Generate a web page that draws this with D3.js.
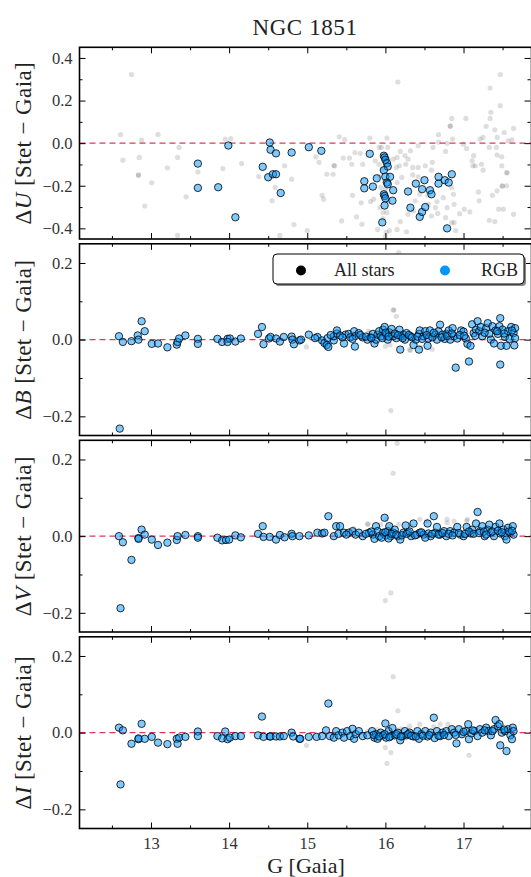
<script src="https://d3js.org/d3.v7.min.js"></script>
<style>
  body { margin: 0; background: #fff; }
  svg text { font-family: 'Liberation Serif', 'DejaVu Serif', serif; }
</style>
<svg id="chart"></svg>
<script>
// ---- data: [G (Gaia), Stet - Gaia] ----
const allU = [[12.75,0.322],[12.61,0.04],[12.64,-0.08],[12.88,0.014],[12.85,-0.067],[12.84,-0.149],[12.84,-0.151],[13.01,-0.186],[12.92,-0.295],
  [13.09,0.041],[13.21,-0.116],[13.34,-0.067],[13.36,-0.02],[13.45,-0.252],[13.34,-0.433],[13.60,-0.135],[13.92,-0.119],[13.95,0.019],[14.02,0.021],
  [14.16,-0.096],[14.38,-0.157],[14.55,-0.27],[14.59,-0.208],[14.71,-0.106],[14.80,-0.169],[14.83,-0.382],[14.65,-0.433],[15.0,-0.41],
  [16.16,0.287],[15.41,0.03],[15.48,0.017],[15.80,0.024],[16.02,0.024],[15.92,-0.02],[15.11,-0.064],[15.15,-0.09],[15.34,-0.105],[15.35,-0.107],
  [15.25,-0.146],[15.33,-0.146],[15.46,-0.07],[15.54,-0.07],[15.57,-0.099],[15.61,-0.044],[15.68,-0.048],[15.71,-0.099],[15.19,-0.245],[15.21,-0.263],
  [15.58,-0.245],[15.69,-0.28],[15.63,-0.346],[15.81,-0.274],[15.85,-0.263],[15.87,-0.083],[15.95,-0.02],[16.03,-0.02],[16.03,-0.075],[16.10,-0.075],
  [16.15,-0.067],[16.19,-0.039],[16.25,-0.059],[16.29,-0.075],[16.32,-0.036],[16.42,-0.012],[16.26,-0.099],[16.18,-0.106],[16.35,-0.114],[16.42,-0.114],
  [16.51,-0.106],[16.60,-0.09],[16.61,-0.02],[16.68,0.005],[16.68,0.04],[16.77,-0.039],[16.79,-0.001],[16.86,0.019],[16.85,0.116],[16.83,0.079],[16.83,0.081],
  [17.03,0.116],[17.00,-0.005],[17.04,-0.025],[17.13,-0.059],[17.11,-0.083],[17.15,-0.106],[17.23,-0.099],[17.25,-0.127],[17.21,0.019],[17.25,0.027],
  [17.29,0.079],[17.34,0.116],[17.35,0.145],[17.33,-0.02],[17.42,-0.02],[17.43,0.027],[17.47,0.176],[17.34,0.259],[17.47,0.322],[17.40,0.063],[17.52,0.05],
  [17.64,0.069],[17.57,0.011],[17.62,0.016],[17.49,-0.064],[17.49,-0.106],[17.55,-0.138],[17.56,-0.14],[17.43,-0.056],[17.49,-0.2],[17.50,-0.202],[17.55,-0.2],
  [17.37,-0.245],[17.43,-0.224],[17.45,-0.31],[17.51,-0.31],[17.64,-0.334],[17.19,-0.229],[17.20,-0.271],[17.33,-0.362],[17.40,-0.368],[17.12,-0.106],
  [16.85,-0.208],[16.87,-0.24],[16.88,-0.287],[16.95,-0.331],[17.01,-0.31],[17.08,-0.323],[16.79,-0.303],[16.77,-0.35],[16.85,-0.373],[16.88,-0.373],
  [16.90,-0.41],[16.67,-0.33],[16.59,-0.342],[16.64,-0.303],[16.55,-0.287],[16.38,-0.271],[16.36,-0.318],[16.29,-0.334],[16.19,-0.368],[16.27,-0.416],
  [16.15,-0.405],[16.05,-0.41],[16.01,-0.42],[15.97,-0.354],[15.97,-0.326],[16.02,-0.326],[15.93,-0.303],[15.90,-0.405],[15.97,-0.24],[16.00,-0.216],
  [15.94,-0.208],[15.93,-0.157],[15.96,-0.122],[15.92,-0.099],[16.15,-0.185],[16.14,-0.114],[16.21,-0.161],[16.35,-0.149],[16.42,-0.158],[16.59,-0.127],
  [16.44,-0.24],[16.54,-0.245],[16.66,-0.274],[16.74,-0.256],[15.70,-0.381],[15.44,-0.365],[15.98,-0.06],[16.01,-0.1],[15.99,-0.18],[16.04,-0.27],[16.0,-0.44]];
const rgbU = [[13.60,-0.096],[13.60,-0.21],[13.86,-0.207],[13.99,-0.011],[14.08,-0.348],[14.43,-0.111],[14.50,-0.16],[14.52,0.003],[14.53,-0.031],
  [14.56,-0.146],[14.60,-0.146],[14.60,-0.048],[14.66,-0.234],[14.80,-0.044],[15.02,-0.019],[15.18,-0.036],[15.80,-0.05],[15.73,-0.179],[15.73,-0.212],
  [15.84,-0.204],[15.89,-0.165],[15.98,-0.059],[15.99,-0.067],[16.00,-0.078],[16.02,-0.094],[16.03,-0.11],[15.98,-0.127],[16.00,-0.157],[16.06,-0.158],
  [16.02,-0.185],[16.03,-0.193],[16.10,-0.221],[15.98,-0.24],[15.99,-0.248],[16.00,-0.259],[16.09,-0.27],[15.99,-0.293],[15.96,-0.372],
  [16.29,-0.227],[16.32,-0.303],[16.39,-0.19],[16.47,-0.216],[16.50,-0.174],[16.44,-0.346],[16.47,-0.323],[16.51,-0.30],[16.57,-0.221],[16.59,-0.24],
  [16.68,-0.158],[16.68,-0.19],[16.76,-0.174],[16.81,-0.185],[16.85,-0.146],[16.79,-0.40]];

const allB = [[14.99,-0.019],[16.10,0.077],[16.07,-0.185],[16.00,-0.017],[16.31,-0.026],[16.14,0.061],[16.17,0.227],[15.78,0.022],[15.80,0.018],
  [16.06,-0.013],[16.11,0.078],[16.32,-0.028],[16.19,0.01],[15.95,0.012],[16.02,0.005],[16.45,-0.02],[16.60,-0.025]];
const rgbB = [[12.59,0.009],[12.64,-0.006],[12.75,-0.004],[12.83,0.011],[12.84,0.0],[12.88,0.048],[12.92,0.022],[13.01,-0.011],[13.09,-0.010],
  [13.21,-0.02],[13.33,-0.013],[13.34,-0.006],[13.36,0.003],[13.44,0.011],[13.60,0.002],[13.60,-0.011],[13.85,0.002],[13.91,-0.006],[13.98,0.002],
  [14.01,0.003],[13.98,-0.006],[14.08,-0.005],[14.15,0.003],[12.60,-0.232],[14.37,0.015],[14.42,0.033],[14.44,-0.012],[14.51,0.003],[14.53,0.007],
  [14.60,0.003],[14.65,-0.005],[14.70,0.007],[14.80,0.008],[14.81,0.0],[14.83,-0.012],[14.90,-0.002],[14.92,0.0],[15.02,0.013],[15.13,0.007],
  [15.19,-0.002],[15.22,-0.009],[15.25,-0.014],[15.27,-0.019],[15.26,0.004],[15.34,-0.002],[15.34,0.009],[15.38,0.016],[15.38,0.024],[15.47,-0.010],
  [15.42,0.011],[15.49,0.013],[15.53,0.015],[15.55,0.006],[15.61,-0.018],[15.60,0.022],[15.62,0.010],[15.66,0.017],[15.71,0.006],[15.77,0.0],
  [15.81,0.006],[15.84,0.015],[15.86,-0.010],[15.88,0.0],[15.90,0.013],[15.92,0.022],[15.94,0.009],[15.97,0.026],[15.99,0.033],[16.01,0.013],
  [16.03,0.0],[16.05,0.019],[16.08,0.028],[16.10,0.009],[16.14,0.004],[16.18,0.026],[16.19,-0.026],[16.20,0.009],[16.23,0.013],[16.25,0.0],
  [16.27,0.017],[16.32,0.009],[16.36,-0.014],[16.39,0.0],[16.43,-0.026],[16.43,0.015],[16.44,0.024],[16.49,0.009],[16.51,0.022],[16.54,-0.016],
  [16.55,0.003],[16.57,0.024],[16.64,0.013],[16.66,0.0],[16.68,0.022],[16.70,0.039],[16.73,0.013],[16.76,0.002],[16.78,0.015],[16.81,0.024],
  [16.83,0.0],[16.86,0.030],[16.88,0.009],[16.90,-0.073],[16.92,0.003],[16.97,0.024],[17.00,0.021],[17.03,0.003],[17.05,-0.011],[17.07,-0.057],
  [17.09,-0.016],[17.11,0.04],[17.13,0.017],[17.16,0.026],[17.18,0.048],[17.20,0.022],[17.22,0.033],[17.24,0.009],[17.29,0.030],[17.31,0.043],
  [17.33,0.015],[17.35,0.0],[17.37,0.035],[17.39,-0.010],[17.41,0.024],[17.44,0.015],[17.46,0.035],[17.47,0.056],[17.47,-0.065],[17.48,-0.016],
  [17.50,0.026],[17.53,0.007],[17.55,-0.016],[17.57,0.022],[17.59,0.002],[17.61,0.033],[17.64,0.017],[17.65,-0.015],[17.66,0.030],[17.66,0.004],
  [15.10,0.004],[15.30,0.012],[15.45,0.006],[15.58,0.002],[15.68,0.012],[15.75,0.008],[15.82,0.004],[15.96,0.004],[16.00,0.018],[16.04,0.008],
  [16.12,0.016],[16.16,0.012],[16.22,0.004],[16.30,0.012],[16.34,0.006],[16.41,0.008],[16.47,0.002],[16.53,0.012],[16.60,0.006],[16.62,0.018],
  [16.72,0.006],[16.79,0.010],[16.85,0.016],[16.95,0.012],[17.01,0.010],[17.15,0.010],[17.27,0.018],[17.43,0.022],[17.52,0.016],[17.62,0.024]];

const allV = [[16.10,0.164],[16.00,-0.168],[16.07,-0.148],[16.15,0.242],[15.77,0.032],[16.01,0.044],[16.44,0.044],[16.79,0.035],[16.88,0.039],
  [17.05,0.044],[15.94,0.03],[16.32,0.026],[15.78,0.031],[16.17,0.031],[16.53,0.04],[16.79,0.044],[17.04,0.04],[16.06,0.024],[15.60,0.02]];
const rgbV = [[12.59,0.0],[12.64,-0.016],[12.75,-0.062],[12.61,-0.188],[12.84,-0.005],[12.84,-0.007],[12.88,0.017],[12.92,0.004],[13.01,-0.009],
  [13.09,-0.023],[13.21,-0.017],[13.33,-0.010],[13.34,0.0],[13.44,0.003],[13.60,0.0],[13.60,-0.004],[13.85,-0.004],[13.91,-0.011],[13.96,-0.010],
  [14.00,-0.009],[14.08,0.002],[14.15,-0.003],[14.37,0.006],[14.43,0.026],[14.44,-0.002],[14.52,-0.002],[14.60,-0.009],[14.65,0.003],[14.71,-0.003],
  [14.80,0.006],[14.81,0.0],[14.90,0.0],[15.02,0.002],[15.13,0.009],[15.19,0.007],[15.22,0.009],[15.27,0.052],[15.34,0.0],[15.37,0.026],[15.40,0.006],
  [15.42,0.026],[15.47,0.009],[15.53,0.009],[15.58,0.013],[15.62,0.004],[15.66,0.009],[15.71,0.0],[15.79,0.009],[15.84,0.004],[15.86,-0.007],
  [15.88,0.026],[15.90,0.013],[15.92,0.0],[15.97,0.009],[15.99,0.048],[16.01,0.002],[16.03,0.013],[16.05,0.026],[16.07,0.0],[16.10,0.009],
  [16.12,0.017],[16.16,0.0],[16.19,-0.009],[16.23,0.009],[16.26,0.028],[16.29,0.009],[16.33,0.0],[16.36,0.033],[16.40,0.004],[16.44,0.009],
  [16.49,0.004],[16.54,0.033],[16.55,0.007],[16.58,0.0],[16.62,0.052],[16.64,0.009],[16.66,0.024],[16.70,0.004],[16.75,0.013],[16.78,0.0],
  [16.83,0.013],[16.88,0.009],[16.92,0.024],[16.96,0.004],[17.00,0.0],[17.04,0.024],[17.09,0.007],[17.11,0.017],[17.16,0.033],[17.18,0.063],
  [17.21,0.013],[17.24,0.026],[17.27,0.0],[17.31,0.017],[17.33,0.030],[17.35,0.009],[17.39,0.0],[17.41,0.024],[17.46,0.033],[17.47,0.007],
  [17.51,0.017],[17.53,0.0],[17.55,-0.009],[17.57,0.022],[17.60,0.009],[17.63,0.026],[17.64,0.004],
  [15.50,0.004],[15.75,0.006],[15.82,0.012],[15.95,-0.004],[16.00,0.010],[16.04,-0.006],[16.08,0.006],[16.14,0.004],[16.21,0.002],[16.27,0.006],
  [16.31,0.012],[16.38,0.002],[16.46,0.010],[16.51,-0.004],[16.60,0.006],[16.68,0.004],[16.73,0.008],[16.81,0.006],[16.86,0.002],[16.94,0.008],
  [17.02,0.006],[17.07,0.012],[17.13,0.006],[17.20,0.008],[17.26,0.012],[17.29,0.004],[17.37,0.012],[17.44,0.014],[17.49,0.010],[17.58,0.012],[17.62,0.014]];

const allI = [[14.99,-0.033],[16.10,0.146],[16.16,0.057],[16.00,-0.039],[16.02,-0.08],[16.07,-0.052],[17.07,-0.059],[15.77,0.003],[16.31,0.017],
  [16.44,0.022],[16.70,0.022],[16.80,0.022],[16.62,0.016],[17.44,0.012],[15.90,0.008],[16.20,0.01]];
const rgbI = [[12.59,0.013],[12.64,0.006],[12.61,-0.135],[12.75,-0.029],[12.84,-0.017],[12.84,-0.015],[12.88,0.023],[12.92,-0.016],[13.01,-0.011],
  [13.09,-0.026],[13.21,-0.030],[13.33,-0.016],[13.34,-0.029],[13.36,-0.013],[13.44,-0.011],[13.60,0.003],[13.60,-0.009],[13.85,-0.009],[13.91,-0.015],
  [13.95,0.003],[13.98,-0.017],[14.01,-0.013],[14.08,-0.009],[14.15,-0.009],[14.37,-0.007],[14.42,0.042],[14.44,-0.011],[14.52,-0.010],[14.53,-0.010],
  [14.60,-0.010],[14.65,-0.010],[14.70,-0.009],[14.80,0.0],[14.82,-0.010],[14.90,-0.016],[14.91,-0.016],[15.02,-0.011],[15.12,-0.011],[15.19,-0.009],
  [15.24,0.006],[15.27,0.076],[15.29,-0.009],[15.34,-0.013],[15.37,0.004],[15.40,-0.007],[15.45,0.0],[15.47,-0.013],[15.51,0.004],[15.55,-0.009],
  [15.58,0.010],[15.60,-0.016],[15.62,-0.004],[15.66,0.004],[15.71,-0.009],[15.77,-0.007],[15.83,0.004],[15.86,-0.013],[15.88,-0.004],[15.90,-0.016],
  [15.94,0.0],[15.97,-0.007],[16.00,0.024],[16.01,-0.013],[16.04,0.004],[16.07,-0.009],[16.09,0.012],[16.12,-0.007],[16.16,0.0],[16.19,-0.020],
  [16.22,-0.009],[16.25,0.004],[16.27,-0.007],[16.31,0.0],[16.36,-0.010],[16.41,0.004],[16.43,-0.016],[16.46,-0.004],[16.51,0.004],[16.54,-0.010],
  [16.58,0.0],[16.62,0.039],[16.63,-0.014],[16.66,0.004],[16.70,-0.009],[16.73,0.0],[16.78,0.004],[16.81,-0.009],[16.85,0.009],[16.88,0.0],
  [16.91,-0.028],[16.94,0.009],[16.98,-0.004],[17.03,0.004],[17.06,0.022],[17.07,-0.017],[17.10,-0.002],[17.14,0.004],[17.18,-0.009],[17.21,0.009],
  [17.24,0.0],[17.29,0.013],[17.32,0.004],[17.35,-0.007],[17.39,0.009],[17.41,0.033],[17.44,0.017],[17.46,0.022],[17.47,-0.033],[17.49,0.0],
  [17.53,0.004],[17.55,-0.048],[17.57,0.009],[17.60,-0.007],[17.62,-0.017],[17.63,0.013],[17.64,0.004],
  [15.85,-0.006],[15.92,-0.010],[15.99,-0.004],[16.05,-0.012],[16.14,-0.004],[16.20,-0.010],[16.29,-0.004],[16.33,-0.008],[16.39,-0.010],
  [16.48,-0.008],[16.56,-0.006],[16.68,-0.008],[16.75,-0.006],[16.90,-0.006],[17.00,0.002],[17.12,0.006],[17.27,0.006],[17.37,0.004],[17.52,0.008]];

const panels = [
  { band: "U", all: allU, rgb: rgbU, domain: [-0.45, 0.45], ticks: [-0.4, -0.2, 0, 0.2, 0.4], minor: [-0.3, -0.1, 0.1, 0.3] },
  { band: "B", all: allB, rgb: rgbB, domain: [-0.25, 0.25], ticks: [-0.2, 0, 0.2], minor: [-0.1, 0.1] },
  { band: "V", all: allV, rgb: rgbV, domain: [-0.25, 0.25], ticks: [-0.2, 0, 0.2], minor: [-0.1, 0.1] },
  { band: "I", all: allI, rgb: rgbI, domain: [-0.25, 0.25], ticks: [-0.2, 0, 0.2], minor: [-0.1, 0.1] }
];
const xTicks = [13, 14, 15, 16, 17];
const xMinor = [12.5, 13.5, 14.5, 15.5, 16.5, 17.5];

const W = 531, H = 877;
const left = 79.5, right = 531.5;
const tops = [47.3, 243.8, 440.3, 636.8];
const ph = 191.7;
const serif = "'Liberation Serif', 'DejaVu Serif', serif";

const svg = d3.select("#chart").attr("width", W).attr("height", H);

const x = d3.scaleLinear().domain([12.085, 17.87]).range([left, right]);

svg.append("text")
  .attr("x", 305).attr("y", 35)
  .attr("text-anchor", "middle")
  .attr("font-family", serif)
  .attr("font-size", 23).attr("letter-spacing", 0.6)
  .attr("fill", "#222")
  .text("NGC 1851");

panels.forEach((p, i) => {
  const top = tops[i], bottom = top + ph;
  const y = d3.scaleLinear().domain(p.domain).range([bottom, top]);
  const g = svg.append("g");

  g.append("clipPath").attr("id", "clip" + i)
    .append("rect").attr("x", left).attr("y", top).attr("width", right - left).attr("height", ph);

  const plot = g.append("g").attr("clip-path", "url(#clip" + i + ")");

  // all stars
  plot.selectAll("circle.all").data(p.all).enter().append("circle")
    .attr("class", "all")
    .attr("cx", d => x(d[0])).attr("cy", d => y(d[1]))
    .attr("r", 2.6)
    .attr("fill", "#000").attr("fill-opacity", 0.13);

  // zero line
  plot.append("line")
    .attr("x1", left).attr("x2", right)
    .attr("y1", y(0)).attr("y2", y(0))
    .attr("stroke", "crimson").attr("stroke-opacity", 0.85)
    .attr("stroke-width", 1.2).attr("stroke-dasharray", "6,4");

  // RGB stars
  plot.selectAll("circle.rgb").data(p.rgb).enter().append("circle")
    .attr("class", "rgb")
    .attr("cx", d => x(d[0])).attr("cy", d => y(d[1]))
    .attr("r", 3.7)
    .attr("fill", "#0096ff").attr("fill-opacity", 0.5)
    .attr("stroke", "#000").attr("stroke-width", 0.8);

  // axes, ticks pointing inward
  const fmt = d3.format(".1f");
  const ax = [
    g.append("g").attr("transform", `translate(${left},0)`).call(d3.axisLeft(y).tickValues(p.ticks).tickSize(-6).tickPadding(7).tickFormat(fmt)),
    g.append("g").attr("transform", `translate(${left},0)`).call(d3.axisLeft(y).tickValues(p.minor).tickSize(-3).tickFormat("")),
    g.append("g").attr("transform", `translate(${right - 1},0)`).call(d3.axisRight(y).tickValues(p.ticks).tickSize(-6).tickFormat("")),
    g.append("g").attr("transform", `translate(${right - 1},0)`).call(d3.axisRight(y).tickValues(p.minor).tickSize(-3).tickFormat("")),
    g.append("g").attr("transform", `translate(0,${top})`).call(d3.axisTop(x).tickValues(xTicks).tickSize(-6).tickFormat("")),
    g.append("g").attr("transform", `translate(0,${top})`).call(d3.axisTop(x).tickValues(xMinor).tickSize(-3).tickFormat("")),
    g.append("g").attr("transform", `translate(0,${bottom})`).call(d3.axisBottom(x).tickValues(xTicks).tickSize(-6).tickPadding(9)
      .tickFormat(i === 3 ? d3.format("d") : "")),
    g.append("g").attr("transform", `translate(0,${bottom})`).call(d3.axisBottom(x).tickValues(xMinor).tickSize(-3).tickFormat(""))
  ];
  ax.forEach(a => {
    a.attr("font-family", serif);
    a.select(".domain").remove();
    a.selectAll(".tick line").attr("stroke", "#000").attr("stroke-width", 1);
    a.selectAll(".tick text").attr("font-size", 16.5).attr("fill", "#333");
  });

  // frame
  g.append("rect")
    .attr("x", left).attr("y", top).attr("width", right - left).attr("height", ph)
    .attr("fill", "none").attr("stroke", "#000").attr("stroke-width", 1.6);

  // y label
  const lab = g.append("text")
    .attr("transform", `translate(31,${top + ph / 2}) rotate(-90)`)
    .attr("text-anchor", "middle")
    .attr("font-family", serif)
    .attr("font-size", 23).attr("letter-spacing", 0.4).attr("fill", "#222");
  lab.append("tspan").text("Δ");
  lab.append("tspan").attr("font-style", "italic").text(p.band);
  lab.append("tspan").text(" [Stet − Gaia]");
});

// x label
svg.append("text")
  .attr("x", 306).attr("y", 873)
  .attr("text-anchor", "middle")
  .attr("font-family", serif)
  .attr("font-size", 22).attr("fill", "#222")
  .text("G [Gaia]");

// legend in second panel
const leg = svg.append("g");
leg.append("rect").attr("x", 275).attr("y", 256).attr("width", 251).attr("height", 30).attr("rx", 4)
  .attr("fill", "#888");
leg.append("rect").attr("x", 273).attr("y", 254).attr("width", 251).attr("height", 30).attr("rx", 4)
  .attr("fill", "#fff").attr("stroke", "#000").attr("stroke-width", 1);
const legItems = [
  { label: "All stars", color: "#000", cx: 301, tx: 334 },
  { label: "RGB", color: "#0096ff", cx: 445, tx: 481 }
];
legItems.forEach(d => {
  leg.append("circle").attr("cx", d.cx).attr("cy", 270.5).attr("r", 5).attr("fill", d.color);
  leg.append("text").attr("x", d.tx).attr("y", 276).attr("font-family", serif)
    .attr("font-size", 18).attr("fill", "#222").text(d.label);
});
</script>
